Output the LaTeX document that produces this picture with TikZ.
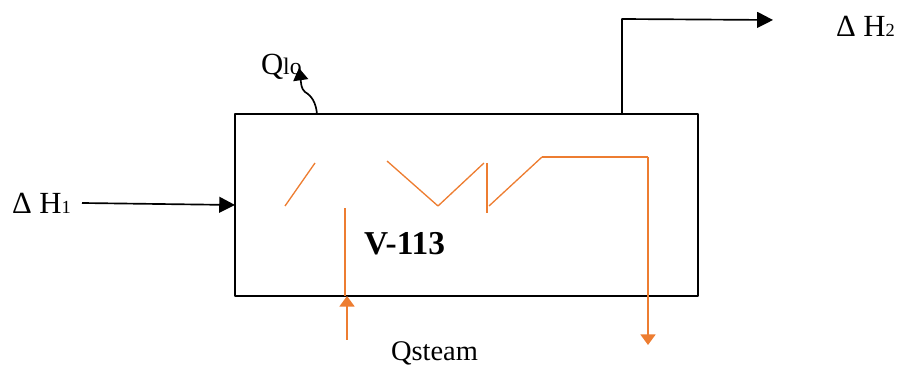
\documentclass[tikz,border=0pt]{standalone}
\usepackage{fontspec}
\setmainfont{Liberation Serif}
\usetikzlibrary{arrows.meta}
\definecolor{steamcol}{HTML}{ED7D31}
\tikzset{
	lbl/.style={anchor=base west, inner sep=0pt, outer sep=0pt, font=\fontsize{16.2}{16}\selectfont},
	biglbl/.style={lbl, font=\fontsize{17.5}{17.5}\selectfont},
	blackline/.style={line width=0.95pt, black},
	steamline/.style={line width=1pt, steamcol},
	coilline/.style={line width=0.75pt, steamcol},
	bighead/.style={-{Triangle[length=9pt,width=9pt]}},
	smallhead/.style={-{Triangle[length=6pt,width=8.5pt]}}
}
\newcommand{\sm}[1]{{\fontsize{10.5}{10.5}\selectfont #1}}
\begin{document}
\begin{tikzpicture}[x=0.02cm, y=-0.02cm, line join=round]
	\useasboundingbox (0,0) rectangle (899,367);
	\node[draw, blackline, minimum width=9.26cm, minimum height=3.64cm, inner sep=0pt, outer sep=0pt] (vessel) at (466.5,205) {};
	%nhan
	\node[biglbl] (dh1) at (12,214) {Δ H\sm{1}};
	\node[biglbl] (dh2) at (836,37) {Δ H\sm{2}};
	\node[biglbl] (qlo) at (261,75) {Q{\fontsize{13.5}{13.5}\selectfont lo}};
	\node[lbl] (qsteam) at (391,361) {Qsteam};
	\node[lbl, font=\fontsize{19}{19}\selectfont\bfseries] (vname) at (364,254.5) {V-113};
	%diem dau mut
	\coordinate (h1start) at (82,203);
	\coordinate (h2start) at (622,114);
	\coordinate (h2bend) at (622,19);
	\coordinate (h2end) at (773,20);
	\coordinate (lostart) at (317,114);
	\coordinate (lomid) at (305,92);
	\coordinate (loend) at (299,68);
	\coordinate (steamin) at (347,340);
	\coordinate (steamtip) at (347,296);
	\coordinate (condtop) at (648,157);
	\coordinate (condend) at (648,345);
	%duong den
	\draw[blackline, bighead] (h1start) -- (vessel.west);
	\draw[blackline, bighead] (h2start) -- (h2bend) -- (h2end);
	\draw[blackline, -{Triangle[length=7pt,width=8.5pt]}] (lostart) .. controls (316,103) and (312,96) .. (lomid) .. controls (301,89) and (301,82) .. (loend);
	%duong cam
	\draw[steamline, smallhead] (steamin) -- (steamtip);
	\draw[steamline] (345,296) -- (345,208);
	\draw[coilline] (285,206) -- (315,163);
	\draw[coilline] (387,161) -- (438,206) -- (484,163);
	\draw[steamline] (487,163) -- (487,213);
	\draw[coilline] (489,206) -- (542,157);
	\draw[steamline] (542,157) -- (condtop);
	\draw[steamline, smallhead] (condtop) -- (condend);
\end{tikzpicture}
\end{document}
